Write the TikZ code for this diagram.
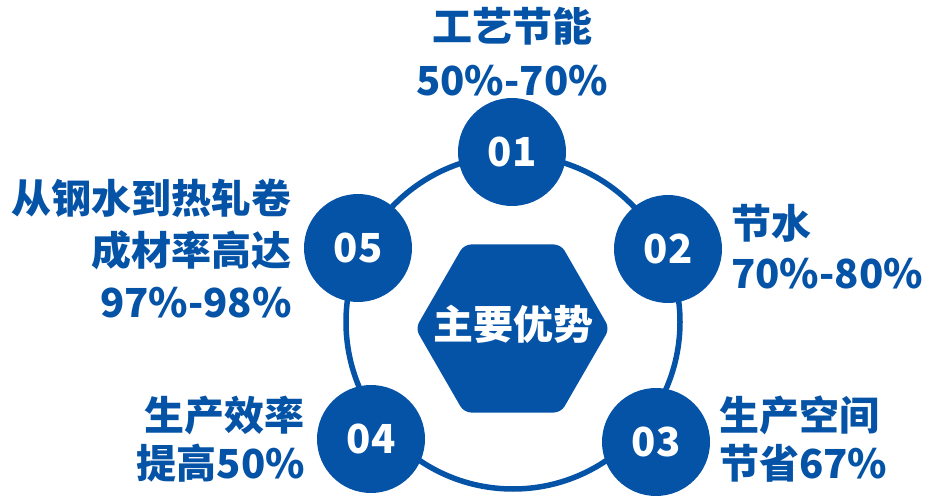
\documentclass[tikz,border=0pt]{standalone}
\usepackage{fontspec}
\setmainfont{Noto Sans CJK SC}
\usetikzlibrary{shapes.geometric}
\definecolor{mainblue}{RGB}{5,83,166}
\tikzset{
  numcircle/.style={circle,fill=mainblue,minimum size=108pt,inner sep=0pt,text=white,font=\fontsize{40}{40}\selectfont\bfseries},
  hexbox/.style={regular polygon,regular polygon sides=6,fill=mainblue,minimum size=194pt,inner sep=0pt,rounded corners=7pt},
  hextext/.style={inner sep=0pt,text=white,font=\fontsize{40}{40}\selectfont\bfseries},
  lbl/.style={inner sep=0pt,text=mainblue,font=\fontsize{40}{#1}\selectfont\bfseries},
  ring/.style={draw=mainblue,line width=5.5pt}
}
\begin{document}
\begin{tikzpicture}[x=1pt,y=-1pt]
\useasboundingbox (0,0) rectangle (927,497);
\coordinate (rc) at (513,322);
\draw[ring] (rc) circle[radius=167];
\node[hexbox] (hex) at (512.5,328.5) {};
\node[hextext] (hext) at (513,324) {主要优势};
\node[numcircle] (c1) at (512,152) {01};
\node[numcircle] (c2) at (668,249) {02};
\node[numcircle] (c3) at (656,442) {03};
\node[numcircle] (c4) at (371,439) {04};
\node[numcircle] (c5) at (358,248) {05};
\node[lbl=54,align=center] (t1) at (512,52) {工艺节能\\50\%-70\%};
\node[lbl=50,align=left,anchor=west] (t2) at (731,247) {节水\\70\%-80\%};
\node[lbl=48,align=left,anchor=west] (t3) at (719,439) {生产空间\\节省67\%};
\node[lbl=48,align=right,anchor=east] (t4) at (305,439) {生产效率\\提高50\%};
\node[lbl=52,align=right,anchor=east] (t5) at (292,249) {从钢水到热轧卷\\成材率高达\\97\%-98\%};
\end{tikzpicture}
\end{document}
